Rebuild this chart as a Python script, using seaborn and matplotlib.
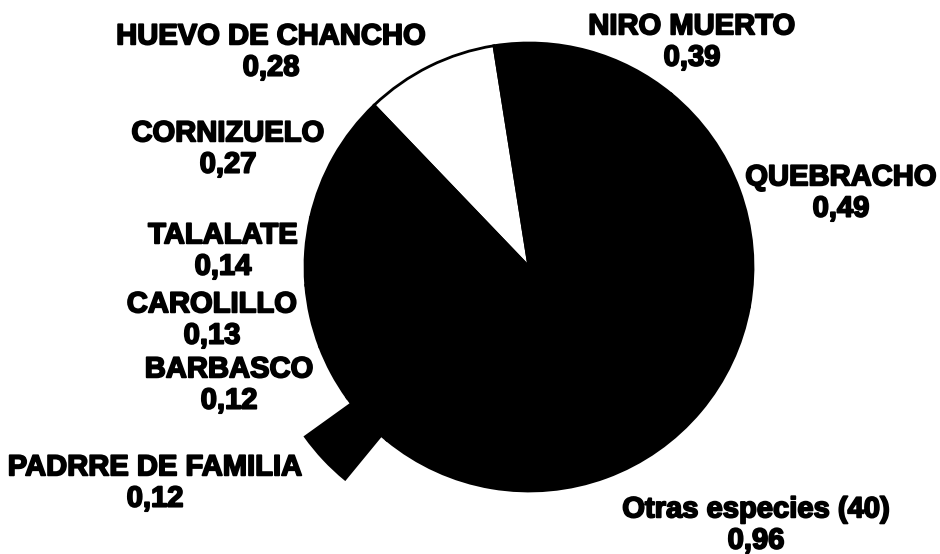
"""
Pie chart of species share (Otras especies, Quebracho, ...), recreated from a scanned figure.
"""

import matplotlib

matplotlib.use("Agg")
import matplotlib.patheffects as pe
import matplotlib.pyplot as plt
import seaborn as sns

# --- Data (counter-clockwise from the white slice) ---
SPECIES = [
    "HUEVO DE CHANCHO",
    "CORNIZUELO",
    "TALALATE",
    "CAROLILLO",
    "BARBASCO",
    "PADRRE DE FAMILIA",
    "Otras especies (40)",
    "QUEBRACHO",
    "NIRO MUERTO",
]
VALUES = [0.28, 0.27, 0.14, 0.13, 0.12, 0.12, 0.96, 0.49, 0.39]
FILL = ["white", "black", "black", "black", "black", "black", "black", "black", "black"]
EXPLODED = "PADRRE DE FAMILIA"

# --- Layout (pixels in a 940x554 canvas, label block centres) ---
W, H = 940, 554
CENTER = (529, 267)
RADIUS = 224
LABEL_POS = [
    (271, 52),
    (228, 149),
    (223, 251),
    (212, 320),
    (229, 385),
    (155, 483),
    (756, 525),
    (841, 193),
    (692, 42),
]

sns.set_theme(style="white")
plt.rcParams["font.family"] = ["Liberation Sans", "DejaVu Sans"]

fig = plt.figure(figsize=(W / 100, H / 100), dpi=100)
fig.patch.set_facecolor("white")
ax = fig.add_axes([0, 0, 1, 1])

wedge_style = {"edgecolor": "black", "linewidth": 2.0}

# full pie first, so the exploded slice leaves no white gap behind it
ax.pie(VALUES, colors=FILL, startangle=99, counterclock=True, wedgeprops=wedge_style)

# exploded slice drawn on top
explode = [0.255 if s == EXPLODED else 0 for s in SPECIES]
wedges, _ = ax.pie(
    VALUES, colors=FILL, startangle=99, counterclock=True,
    explode=explode, wedgeprops=wedge_style,
)
for name, w in zip(SPECIES, wedges):
    if name != EXPLODED:
        w.remove()

cx, cy = CENTER
ax.set_xlim(-cx / RADIUS, (W - cx) / RADIUS)
ax.set_ylim(-(H - cy) / RADIUS, cy / RADIUS)
ax.set_aspect("auto")
ax.axis("off")

stroke = [pe.withStroke(linewidth=1.3, foreground="black")]
for name, val, (px, py) in zip(SPECIES, VALUES, LABEL_POS):
    label = f"{name}\n{val:.2f}".replace(".", ",")
    fig.text(
        px / W, 1 - py / H, label,
        ha="center", va="center", multialignment="center",
        fontsize=21, fontweight="bold", color="black",
        linespacing=1.15, path_effects=stroke,
    )

fig.savefig("out.png", dpi=100, facecolor="white")
